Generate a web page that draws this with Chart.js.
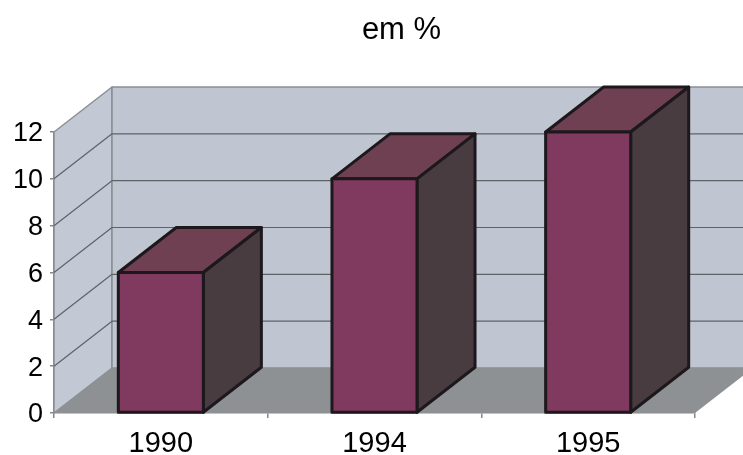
<!DOCTYPE html>
<html>
<head>
<meta charset="utf-8">
<title>em %</title>
<script src="https://cdn.jsdelivr.net/npm/chart.js@4/dist/chart.umd.min.js"></script>
<style>
    html, body { margin: 0; padding: 0; background: #fff; }
    canvas { display: block; }
</style>
</head>
<body>
<canvas id="years-chart" width="743" height="455"></canvas>
<script>
var years = ['1990', '1994', '1995'];
var percents = [6, 10, 12];
var yMax = 12;
var yStep = 2;

// Offset of the back plane from the front plane
var DEPTH_X = 58;
var DEPTH_Y = -45;
var BAR_EDGE = '#1d181b';
var FONT_FAMILY = '"Liberation Sans", Arial, sans-serif';

function fillPoly(ctx, points, fill, stroke, lineWidth) {
    ctx.beginPath();
    ctx.moveTo(points[0][0], points[0][1]);
    for (var i = 1; i < points.length; i++) {
        ctx.lineTo(points[i][0], points[i][1]);
    }
    ctx.closePath();
    if (fill) {
        ctx.fillStyle = fill;
        ctx.fill();
    }
    if (stroke) {
        ctx.strokeStyle = stroke;
        ctx.lineWidth = lineWidth;
        ctx.lineJoin = 'round';
        ctx.stroke();
    }
}

/**
 * Side wall, back wall, floor, receding gridlines and the bar faces
 */
var wallsPlugin = {
    id: 'walls',
    beforeDatasetsDraw: function(chart) {
        var ctx = chart.ctx;
        var area = chart.chartArea;
        var y = chart.scales.y;
        var l = area.left, r = area.right, t = area.top, b = area.bottom;

        ctx.save();
        fillPoly(ctx, [[l, t], [l + DEPTH_X, t + DEPTH_Y], [l + DEPTH_X, b + DEPTH_Y], [l, b]], '#c2c8d4', '#8b8f94', 1.5);
        fillPoly(ctx, [[l + DEPTH_X, t + DEPTH_Y], [r + DEPTH_X, t + DEPTH_Y], [r + DEPTH_X, b + DEPTH_Y], [l + DEPTH_X, b + DEPTH_Y]], '#bfc5d1', '#8b8f94', 1.5);
        fillPoly(ctx, [[l, b], [l + DEPTH_X, b + DEPTH_Y], [r + DEPTH_X, b + DEPTH_Y], [r, b]], '#8d9194');

        ctx.strokeStyle = '#5f6368';
        ctx.lineWidth = 1.2;
        y.ticks.forEach(function(tick) {
            if (tick.value === 0 || tick.value === yMax) {
                return;
            }
            var py = y.getPixelForValue(tick.value);
            ctx.beginPath();
            ctx.moveTo(l, py);
            ctx.lineTo(l + DEPTH_X, py + DEPTH_Y);
            ctx.lineTo(r + DEPTH_X, py + DEPTH_Y);
            ctx.stroke();
        });

        // Top and side faces go under the front face of each bar
        chart.getDatasetMeta(0).data.forEach(function(bar) {
            var x0 = bar.x - bar.width / 2;
            var x1 = bar.x + bar.width / 2;
            fillPoly(ctx, [[x0, bar.y], [x0 + DEPTH_X, bar.y + DEPTH_Y], [x1 + DEPTH_X, bar.y + DEPTH_Y], [x1, bar.y]], '#6e4052', BAR_EDGE, 3);
            fillPoly(ctx, [[x1, bar.y], [x1 + DEPTH_X, bar.y + DEPTH_Y], [x1 + DEPTH_X, bar.base + DEPTH_Y], [x1, bar.base]], '#483c41', BAR_EDGE, 3);
        });
        ctx.restore();
    },
    afterDatasetsDraw: function(chart) {
        var ctx = chart.ctx;
        ctx.save();
        chart.getDatasetMeta(0).data.forEach(function(bar) {
            var x0 = bar.x - bar.width / 2;
            var x1 = bar.x + bar.width / 2;
            fillPoly(ctx, [[x0, bar.y], [x1, bar.y], [x1, bar.base], [x0, bar.base]], null, BAR_EDGE, 3);
        });
        ctx.restore();
    }
};

// Moves the title right of the canvas centre, over the middle of the back wall
var titleShiftPlugin = {
    id: 'titleShift',
    afterLayout: function(chart) {
        chart.titleBlock.left += 54;
        chart.titleBlock.right += 54;
    }
};

new Chart(document.getElementById('years-chart'), {
    type: 'bar',
    data: {
        labels: years,
        datasets: [{
            label: 'em %',
            data: percents,
            backgroundColor: '#803a5f',
            borderWidth: 0,
            barPercentage: 0.398,
            categoryPercentage: 1,
            clip: false
        }]
    },
    options: {
        responsive: false,
        animation: false,
        layout: {
            padding: { left: 0, right: 48, top: 0, bottom: 0 }
        },
        plugins: {
            legend: { display: false },
            tooltip: { enabled: false },
            title: {
                display: true,
                text: 'em %',
                color: '#000',
                font: { family: FONT_FAMILY, size: 31, weight: 'normal' },
                padding: { top: 12, bottom: 82.8 }
            }
        },
        scales: {
            x: {
                grid: { drawOnChartArea: false, color: '#83878c', lineWidth: 1.5, tickLength: 5 },
                border: { color: '#83878c', width: 1.5 },
                ticks: {
                    color: '#000',
                    padding: 9,
                    font: { family: FONT_FAMILY, size: 29 }
                },
                afterFit: function(scale) { scale.height = 42; }
            },
            y: {
                min: 0,
                max: yMax,
                grid: { drawOnChartArea: false, color: '#83878c', lineWidth: 1.5, tickLength: 4 },
                border: { color: '#83878c', width: 1.5 },
                ticks: {
                    stepSize: yStep,
                    color: '#000',
                    padding: 7,
                    labelOffset: 2,
                    font: { family: FONT_FAMILY, size: 27 }
                },
                afterFit: function(scale) { scale.width = 54; }
            }
        }
    },
    plugins: [wallsPlugin, titleShiftPlugin]
});
</script>
</body>
</html>
